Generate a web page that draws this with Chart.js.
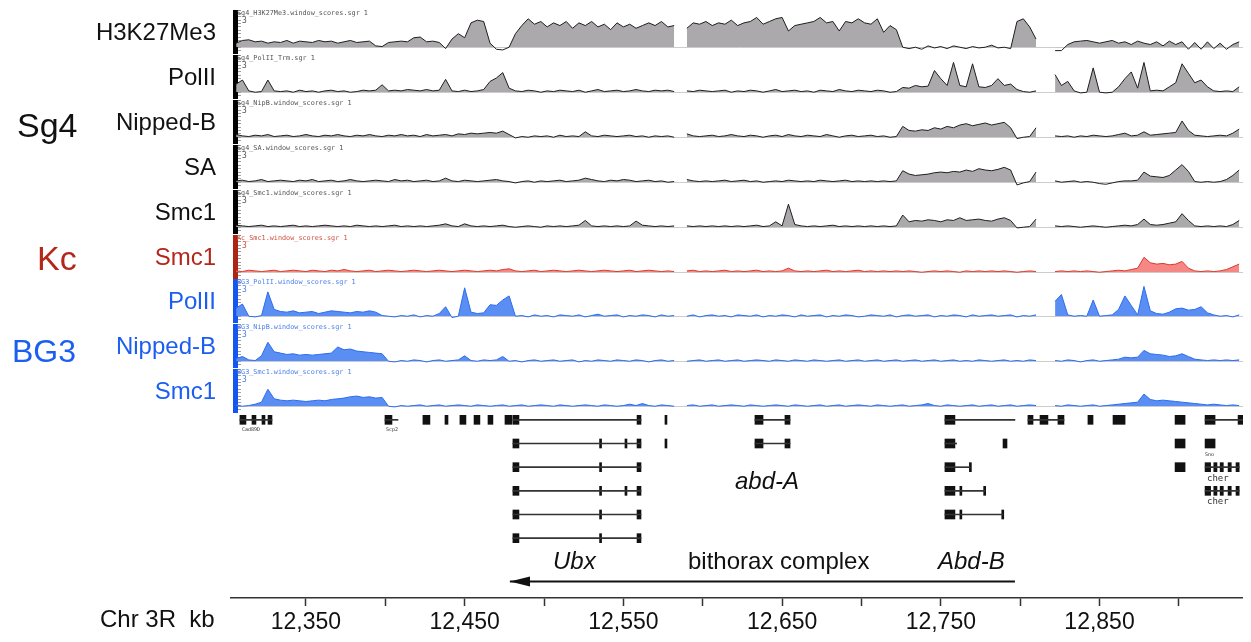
<!DOCTYPE html>
<html><head><meta charset="utf-8">
<script src="https://cdn.jsdelivr.net/npm/chart.js@4.4.1/dist/chart.umd.min.js"></script>
<style>
body{margin:0;background:#fff;}
#wrap{position:relative;width:1251px;height:642px;overflow:hidden;font-family:"Liberation Sans",Arial,Helvetica,sans-serif;background:#fff;}
.abs{position:absolute;white-space:nowrap;}
canvas{position:absolute;}
.tl{font-size:24px;line-height:26px;text-align:right;width:212px;}
.grp{font-size:34px;line-height:38px;}
.fn{font-family:"DejaVu Sans Mono",monospace;font-size:6.8px;line-height:8px;}
.sc{font-family:"DejaVu Sans Mono",monospace;font-size:8px;line-height:9px;}
.gl{font-family:"DejaVu Sans Mono",monospace;font-size:9px;line-height:10px;color:#333;}
.big{font-size:24px;line-height:26px;color:#111;}
</style></head><body><div id="wrap"></div>
<script>
// ---- x range (kb on Chr 3R) ----
const xMinKb = 12305.3, xMaxKb = 12940.4;
const binStartKb = 12306, binSizeKb = 4;

// ---- tracks ----
const trackNames = ['H3K27Me3','PolII','Nipped-B','SA','Smc1','Smc1','PolII','Nipped-B','Smc1'];
const trackGroups = ['Sg4','Sg4','Sg4','Sg4','Sg4','Kc','BG3','BG3','BG3'];
const trackFiles = ['Sg4_H3K27Me3.window_scores.sgr 1','Sg4_PolII_Trm.sgr 1','Sg4_NipB.window_scores.sgr 1','Sg4_SA.window_scores.sgr 1','Sg4_Smc1.window_scores.sgr 1','Kc_Smc1.window_scores.sgr 1','BG3_PolII.window_scores.sgr 1','BG3_NipB.window_scores.sgr 1','BG3_Smc1.window_scores.sgr 1'];

const sg4H3K27Me3 = [1.3,1.5,1.55,1.4,1.45,1.3,1.4,1.35,1.5,1.3,
1.45,1.4,1.35,1.5,1.4,1.45,1.3,1.4,1.5,1.35,
1.4,1.45,1.1,1.05,1.35,1.4,1.45,1.4,1.7,1.75,
1.4,1.45,1.35,0.9,1.6,2.0,1.7,2.8,3.0,2.9,
1.3,0.85,0.8,1.0,2.0,2.6,3.1,2.7,2.9,2.5,
2.8,2.6,2.9,2.4,2.8,2.6,2.9,2.5,2.7,2.3,
2.8,2.5,2.7,2.4,2.6,2.8,2.6,2.9,2.5,2.6,
null,2.4,2.8,2.7,2.9,2.6,2.8,2.7,3.0,2.6,
2.8,2.9,3.2,2.7,2.9,3.1,3.2,2.2,2.6,2.7,
2.8,2.9,3.2,2.8,2.9,2.2,2.9,2.8,3.1,2.8,
2.7,3.1,2.1,2.6,2.3,1.0,0.9,1.0,0.85,1.1,
0.95,1.05,0.9,1.1,1.0,0.9,1.05,0.95,1.0,1.15,
0.95,1.0,0.9,2.9,3.1,2.5,1.6,null,null,0.75,
0.75,1.2,1.4,1.45,1.5,1.4,1.3,1.4,1.5,1.3,
1.4,1.2,1.45,1.3,1.2,1.4,1.1,1.45,1.2,1.4,
0.85,1.35,0.85,1.4,0.9,1.3,0.85,1.2,1.4];

const sg4PolII = [1.6,1.9,1.1,1.0,1.05,1.9,1.1,1.05,1.1,1.0,
1.15,1.05,1.1,1.0,1.1,1.15,1.05,1.1,1.0,1.05,
1.15,1.1,1.15,1.55,1.1,1.15,1.1,1.2,1.15,1.1,
1.2,1.1,1.15,1.95,1.1,1.05,1.15,1.05,1.1,1.2,
1.8,2.05,2.45,1.3,1.1,1.05,1.15,1.1,1.0,1.1,
1.05,1.15,1.1,1.05,1.15,1.0,1.1,1.2,1.05,1.1,
1.15,1.05,1.1,1.2,1.1,1.05,1.15,1.1,1.15,1.05,
null,1.1,1.05,1.15,1.1,1.05,1.1,1.15,1.0,1.1,
1.05,1.15,1.1,1.0,1.1,1.2,1.05,1.1,1.15,1.05,
1.1,1.0,1.15,1.1,1.05,1.2,1.1,1.05,1.15,1.1,
1.05,1.15,1.1,1.0,1.05,1.35,1.3,1.5,1.4,1.45,
2.6,2.0,1.5,3.2,1.5,1.4,3.1,1.4,1.35,1.5,
2.0,1.5,1.6,1.2,1.05,1.0,1.1,null,null,2.3,
1.5,1.8,1.1,0.95,1.0,2.8,1.0,0.95,1.0,1.4,
2.0,2.5,1.3,3.2,1.1,1.15,1.1,1.4,1.7,3.1,
2.4,1.7,1.9,1.4,1.1,1.05,1.1,1.05,1.4];

const sg4NippedB = [1.2,1.1,1.05,1.15,1.1,1.2,1.05,1.1,1.15,1.05,
1.1,1.2,1.1,1.05,1.15,1.1,1.2,1.1,1.05,1.15,
1.1,1.2,1.1,1.05,1.15,1.1,1.2,1.1,1.15,1.05,
1.2,1.1,1.15,1.2,1.1,1.25,1.2,1.3,1.25,1.3,
1.35,1.3,1.45,1.2,0.95,1.05,1.0,1.1,1.05,1.1,
1.0,1.15,1.05,1.1,1.05,1.4,1.1,1.05,1.15,1.1,
1.05,1.1,1.15,1.05,1.1,1.0,1.1,1.05,1.1,1.0,
null,1.25,1.1,1.05,1.1,1.15,1.05,1.1,1.2,1.1,
1.05,1.15,1.1,1.0,1.1,1.15,1.05,1.2,1.1,1.05,
1.15,1.1,1.05,1.2,1.1,1.0,1.1,1.15,1.05,1.1,
1.15,1.05,1.1,1.0,1.05,1.8,1.5,1.45,1.55,1.5,
1.7,1.6,1.8,1.7,1.9,2.0,1.85,1.95,2.05,1.9,
2.0,2.1,1.7,0.9,1.0,1.05,1.7,null,null,1.1,
1.05,1.1,1.0,1.1,1.05,1.15,1.1,1.05,1.1,1.2,
1.3,1.1,1.15,1.4,1.15,1.2,1.25,1.3,1.35,2.2,
1.5,1.15,1.1,1.05,1.1,1.15,1.1,1.3,1.6];

const sg4SA = [1.1,1.15,1.05,1.1,1.2,1.05,1.1,1.15,1.1,1.05,
1.15,1.1,1.2,1.05,1.1,1.15,1.05,1.1,1.2,1.1,
1.05,1.1,1.15,1.1,1.05,1.2,1.1,1.15,1.05,1.1,
1.15,1.05,1.1,1.3,1.1,1.05,1.15,1.1,1.05,1.1,
1.15,1.2,1.1,1.05,0.95,1.05,1.1,1.0,1.1,1.05,
1.1,1.15,1.05,1.1,1.15,1.3,1.2,1.1,1.05,1.15,
1.1,1.2,1.15,1.05,1.1,1.15,1.05,1.1,1.0,1.05,
null,1.2,1.1,1.05,1.1,1.05,1.1,1.15,1.05,1.1,
1.15,1.05,1.1,1.0,1.05,1.1,1.05,1.15,1.1,1.05,
1.1,1.05,1.15,1.1,1.05,1.1,1.15,1.05,1.1,1.05,
1.1,1.05,1.1,1.05,1.1,1.85,1.6,1.5,1.55,1.6,
1.7,1.75,1.7,1.8,1.75,1.9,1.8,2.0,1.9,1.85,
1.95,2.1,1.9,0.8,0.95,1.05,1.75,null,null,1.1,
1.0,1.05,1.1,1.0,1.05,1.0,0.9,0.85,0.95,1.05,
1.1,1.1,1.15,1.75,1.45,1.4,1.35,1.5,1.9,2.3,
1.8,1.05,1.0,1.05,1.0,1.05,1.2,1.5,1.9];

const sg4Smc1 = [1.15,1.1,1.05,1.1,1.15,1.05,1.1,1.05,1.1,1.15,
1.05,1.1,1.05,1.1,1.15,1.1,1.05,1.1,1.05,1.15,
1.1,1.05,1.1,1.05,1.1,1.15,1.05,1.1,1.05,1.1,
1.05,1.1,1.15,1.25,1.1,1.05,1.25,1.1,1.05,1.1,
1.05,1.1,1.15,1.05,1.0,1.05,1.1,1.05,1.0,1.1,
1.05,1.1,1.05,1.1,1.15,1.5,1.1,1.05,1.1,1.05,
1.1,1.05,1.1,1.45,1.15,1.1,1.05,1.1,1.05,1.1,
null,1.1,1.05,1.1,1.05,1.1,1.05,1.1,1.05,1.1,
1.05,1.1,1.15,1.05,1.1,1.4,1.1,2.7,1.2,1.1,
1.05,1.1,1.05,1.1,1.15,1.05,1.1,1.05,1.1,1.05,
1.1,1.05,1.1,1.05,1.1,1.9,1.4,1.5,1.45,1.55,
1.5,1.4,1.55,1.5,1.7,1.5,1.55,1.6,1.5,1.45,
1.6,1.7,1.5,0.95,1.0,1.05,1.6,null,null,1.1,
1.05,1.1,1.05,1.0,1.05,1.1,1.05,1.0,1.05,1.1,
1.15,1.1,1.2,1.6,1.2,1.15,1.2,1.3,1.4,2.0,
1.5,1.1,1.05,1.1,1.05,1.1,1.05,1.2,1.5];

const kcSmc1 = [1.1,1.05,1.15,1.1,1.05,1.1,1.15,1.05,1.1,1.15,
1.1,1.05,1.15,1.1,1.05,1.15,1.1,1.2,1.1,1.05,
1.1,1.15,1.05,1.1,1.15,1.1,1.05,1.1,1.15,1.1,
1.05,1.1,1.15,1.1,1.05,1.1,1.15,1.1,1.05,1.1,
1.15,1.1,1.2,1.25,1.1,1.05,1.1,1.15,1.05,1.1,
1.15,1.1,1.05,1.1,1.15,1.1,1.05,1.1,1.15,1.1,
1.05,1.1,1.15,1.05,1.1,1.15,1.1,1.05,1.1,1.05,
null,1.1,1.15,1.05,1.1,1.05,1.1,1.15,1.05,1.1,
1.05,1.1,1.15,1.05,1.1,1.05,1.1,1.3,1.1,1.05,
1.1,1.05,1.1,1.15,1.05,1.1,1.05,1.1,1.15,1.05,
1.1,1.05,1.1,1.05,1.1,1.05,1.1,1.05,1.0,1.05,
1.1,1.05,1.1,1.05,1.0,1.1,1.05,1.1,1.05,1.1,
1.05,1.1,1.05,1.0,1.05,1.1,1.05,null,null,1.05,
1.1,1.05,1.1,1.05,1.1,1.05,1.0,1.05,1.1,1.15,
1.1,1.2,1.3,2.1,1.7,1.6,1.65,1.55,1.6,1.8,
1.3,1.1,1.05,1.1,1.05,1.1,1.2,1.4,1.6];

const bg3PolII = [1.6,1.9,1.0,0.95,1.05,2.8,1.5,1.35,1.3,1.4,
1.25,1.3,1.35,1.2,1.3,1.4,1.35,1.3,1.25,1.35,
1.3,1.4,1.3,1.05,1.0,0.95,1.05,1.0,1.1,0.95,
1.05,1.0,1.2,1.7,0.9,1.0,3.1,1.3,1.2,1.25,
1.85,1.8,2.2,2.5,1.0,1.05,0.95,1.1,1.0,1.05,
0.95,1.1,1.05,1.0,1.1,0.95,1.05,1.15,1.0,1.05,
1.1,0.95,1.05,1.0,1.1,1.05,0.95,1.1,1.0,1.05,
null,1.0,1.1,0.95,1.05,1.1,1.0,1.05,0.95,1.1,
1.05,1.0,1.1,0.95,1.05,1.0,1.1,1.05,0.95,1.1,
1.0,1.05,1.1,0.95,1.05,1.0,1.1,1.05,0.95,1.0,
1.1,1.05,1.0,1.1,0.95,1.05,1.1,1.0,1.05,1.1,
0.95,1.05,1.0,1.1,1.05,0.95,1.1,1.0,1.05,1.1,
1.0,1.05,1.1,0.95,1.05,1.0,1.1,null,null,2.1,
2.6,1.1,1.0,1.05,1.0,2.2,1.0,1.05,1.1,1.5,
2.5,1.8,1.1,3.2,1.4,1.2,1.15,1.3,1.55,1.6,
1.45,1.5,1.7,1.25,1.1,1.0,1.05,0.95,1.1];

const bg3NippedB = [1.2,1.35,1.1,1.05,1.4,2.4,1.7,1.6,1.5,1.55,
1.45,1.5,1.45,1.5,1.55,1.6,2.05,1.85,1.9,1.75,
1.7,1.65,1.6,1.55,1.0,0.95,1.05,1.0,1.1,1.05,
0.95,1.05,1.1,1.0,1.05,1.1,1.4,1.05,1.0,1.1,
1.05,1.1,1.35,1.0,1.05,0.95,1.05,1.1,1.0,1.05,
1.1,1.0,1.05,1.1,0.95,1.05,1.0,1.1,1.05,1.0,
1.1,1.05,1.0,1.1,1.05,0.95,1.05,1.1,1.0,1.05,
null,1.0,1.05,1.1,1.0,1.05,1.1,1.0,1.05,1.1,
1.0,1.05,1.1,1.05,1.0,1.1,1.05,1.0,1.1,1.05,
1.0,1.1,1.05,1.0,1.05,1.1,1.0,1.05,1.1,1.0,
1.05,1.1,1.0,1.05,1.1,1.0,1.05,1.1,1.0,1.05,
1.1,1.0,1.05,1.1,1.0,1.05,1.0,1.1,1.05,1.0,
1.05,1.1,1.0,1.05,1.0,1.1,1.05,null,null,1.05,
1.0,1.1,1.05,0.95,1.05,1.1,1.0,1.05,1.1,1.15,
1.3,1.25,1.3,1.8,1.55,1.5,1.45,1.35,1.4,1.55,
1.35,1.15,1.1,1.05,1.1,1.05,1.1,1.05,1.1];

const bg3Smc1 = [1.1,1.0,1.05,1.15,1.3,2.25,1.55,1.45,1.4,1.45,
1.4,1.35,1.4,1.45,1.4,1.5,1.55,1.6,1.7,1.75,
1.65,1.7,1.6,1.65,1.0,0.95,1.05,1.0,1.05,1.1,
1.0,1.05,1.1,1.0,1.05,1.1,1.05,1.0,1.1,1.05,
1.0,1.05,1.1,1.0,1.05,1.1,1.0,1.05,1.1,1.05,
1.0,1.1,1.05,1.0,1.05,1.1,1.05,1.0,1.1,1.05,
1.0,1.05,1.15,1.05,1.2,1.05,1.0,1.1,1.05,1.0,
null,1.05,1.1,1.0,1.05,1.1,1.0,1.05,1.1,1.05,
1.0,1.1,1.05,1.0,1.05,1.1,1.05,1.0,1.1,1.05,
1.0,1.05,1.1,1.0,1.05,1.1,1.0,1.05,1.1,1.05,
1.0,1.1,1.05,1.0,1.05,1.1,1.0,1.05,1.1,1.2,
1.05,1.0,1.1,1.05,1.0,1.05,1.1,1.0,1.05,1.1,
1.0,1.05,1.1,1.0,1.05,1.1,1.05,null,null,1.05,
1.0,1.1,1.05,1.0,1.05,1.1,1.0,1.05,1.1,1.15,
1.2,1.25,1.3,1.9,1.5,1.4,1.45,1.4,1.35,1.3,
1.25,1.2,1.15,1.1,1.15,1.1,1.05,1.1,1.05];

const trackValues = [sg4H3K27Me3, sg4PolII, sg4NippedB, sg4SA, sg4Smc1, kcSmc1, bg3PolII, bg3NippedB, bg3Smc1];

// ---- gene models: [row, startKb, endKb] ----
const geneRows = ['r1','r2','r3','r4','r5','r6'];
const intronSpans = [
 [0,12308.4,12328.6],[0,12399.8,12408],[0,12480.4,12561.1],[0,12632.9,12655],[0,12752.6,12796.7],[0,12804.9,12827.6],[0,12916.5,12940.4],
 [1,12480.4,12561.1],[1,12632.9,12655],[1,12752.6,12760],
 [2,12480.4,12561.1],[2,12752.6,12768.4],[2,12916.5,12938],
 [3,12480.4,12561.1],[3,12752.6,12777.8],[3,12916.5,12938],
 [4,12480.4,12561.1],[4,12752.6,12789.2],
 [5,12480.4,12561.1]
];
const exonSpans = [
 [0,12308.4,12312.2],[0,12316,12318.5],[0,12322.3,12324.2],[0,12326.1,12328.6],[0,12399.8,12404.2],[0,12423.7,12428.1],[0,12437.6,12439.5],[0,12447,12450.8],[0,12455.9,12459.6],[0,12464.7,12467.8],[0,12475.4,12479.8],[0,12480.4,12484.2],[0,12558.6,12561.1],[0,12576.2,12577.2],[0,12632.9,12638],[0,12651.8,12655],[0,12752.6,12758.9],[0,12804.9,12808.1],[0,12812.5,12817.5],[0,12823.8,12827.6],[0,12842.7,12845.9],[0,12858.5,12866.1],[0,12897.6,12903.9],[0,12916.5,12922.8],[0,12937.3,12940.4],
 [1,12480.4,12484.2],[1,12535,12535.8],[1,12551,12551.8],[1,12558.6,12561.1],[1,12576.2,12577.2],[1,12632.9,12638],[1,12651.8,12655],[1,12752.6,12758.9],[1,12789.2,12791.7],[1,12897.6,12903.9],[1,12916.5,12922.8],
 [2,12480.4,12484.2],[2,12535,12535.8],[2,12558.6,12561.1],[2,12752.6,12758.9],[2,12768,12768.8],[2,12897.6,12903.9],[2,12916.5,12920],[2,12922,12924],[2,12926,12928],[2,12931,12933],[2,12936,12938],
 [3,12480.4,12484.2],[3,12535,12535.8],[3,12551,12551.8],[3,12558.6,12561.1],[3,12752.6,12758.9],[3,12762,12762.8],[3,12777,12777.8],[3,12916.5,12920],[3,12922,12924],[3,12926,12928],[3,12931,12933],[3,12936,12938],
 [4,12480.4,12484.2],[4,12535,12535.8],[4,12558.6,12561.1],[4,12752.6,12758.9],[4,12762,12762.8],[4,12788.4,12789.2],
 [5,12480.4,12484.2],[5,12535,12535.8],[5,12558.6,12561.1]
];

// ---- axis ----
const axisMinKb = 12302.15;
const axisTickStepKb = 50;
const arrowTipKb = 12478.5, arrowTailKb = 12796.7;

const groupStyle = {
  Sg4:{line:'#1e1e1e', fill:'#aba9ac', bar:'#000000', label:'#111111', file:'#555555'},
  Kc:{line:'#d83a2c', fill:'#f58884', bar:'#ad2415', label:'#b3281b', file:'#d0503f'},
  BG3:{line:'#2c6cf0', fill:'#5a8ef3', bar:'#1656f0', label:'#1c5ff0', file:'#4d80ea'}
};

const wrap = document.getElementById('wrap');
function addText(txt, cls, left, top, extra) {
  const d = document.createElement('div');
  d.className = 'abs ' + cls; d.textContent = txt;
  d.style.left = left + 'px'; d.style.top = top + 'px';
  if (extra) Object.assign(d.style, extra);
  wrap.appendChild(d); return d;
}
function addCanvas(left, top, w, h) {
  const c = document.createElement('canvas');
  c.width = w; c.height = h; c.style.left = left + 'px'; c.style.top = top + 'px';
  c.style.width = w + 'px'; c.style.height = h + 'px';
  wrap.appendChild(c); return c;
}
const baseOpts = {animation:false, responsive:false, events:[], devicePixelRatio:1, layout:{padding:0, autoPadding:false},
  plugins:{legend:{display:false}, tooltip:{enabled:false}, title:{display:false}}};

trackValues.forEach((vals, k) => {
  const top = Math.round(10 + 44.9 * k);
  const g = groupStyle[trackGroups[k]];
  const cv = addCanvas(230, top, 1013, 44);
  const pts = vals.map((v, i) => ({x: binStartKb + binSizeKb * i, y: v}));
  new Chart(cv, {
    type:'line',
    data:{datasets:[{data:pts, borderColor:g.line, borderWidth:1, pointRadius:0, tension:0, spanGaps:false,
      fill:{target:{value:1}, above:g.fill, below:'rgba(0,0,0,0)'}}]},
    options:Object.assign({}, baseOpts, {
      scales:{
        x:{type:'linear', min:xMinKb, max:xMaxKb, display:false},
        y:{type:'linear', min:0.5, max:3.75, position:'left',
          afterFit(s){ s.width = 5; },
          border:{display:true, color:g.bar, width:5},
          grid:{drawOnChartArea:true, drawTicks:true, tickLength:-6, tickColor:'#a0a0a0', tickWidth:1,
            color:(c)=> (c.tick && Math.abs(c.tick.value - 1) < 1e-6) ? '#cdcdcd' : 'rgba(0,0,0,0)'},
          ticks:{stepSize:0.25, autoSkip:false, display:false}
        }
      }
    })
  });
  addText(trackFiles[k], 'fn', 237, top - 1, {color:g.file});
  addText('3', 'sc', 242, top + 6, {color:g.file});
  addText(trackNames[k], 'tl', 4, top + 9, {color:g.label});
});

addText('Sg4', 'grp', 17, 106, {color:groupStyle.Sg4.label});
addText('Kc', 'grp', 37, 239, {color:groupStyle.Kc.label});
addText('BG3', 'grp', 12, 332, {color:groupStyle.BG3.label, fontSize:'32px'});

// gene track
const gcv = addCanvas(235, 408, 1008, 142);
new Chart(gcv, {
  type:'bar',
  data:{labels:geneRows, datasets:[
    {data:intronSpans.map(([r,s,e]) => ({y:geneRows[r], x:[s,e]})), backgroundColor:'#333', barThickness:1, grouped:false},
    {data:exonSpans.map(([r,s,e]) => ({y:geneRows[r], x:[s,e]})), backgroundColor:'#111', barThickness:9, grouped:false, minBarLength:2}
  ]},
  options:Object.assign({}, baseOpts, {indexAxis:'y',
    scales:{x:{type:'linear', min:xMinKb, max:xMaxKb, display:false}, y:{type:'category', display:false, offset:true}}})
});
addText('Cad89D', 'gl', 242, 424, {fontSize:'5px'});
addText('Scp2', 'gl', 386, 424, {fontSize:'5px'});
addText('Sno', 'gl', 1205, 449, {fontSize:'5px'});
addText('cher', 'gl', 1207, 473);
addText('cher', 'gl', 1207, 496);
addText('abd-A', 'big', 735, 468, {fontStyle:'italic'});
addText('Ubx', 'big', 553, 548, {fontStyle:'italic'});
addText('bithorax complex', 'big', 688, 548);
addText('Abd-B', 'big', 938, 548, {fontStyle:'italic'});

// axis + arrow
const head = document.createElement('canvas');
head.width = 40; head.height = 11;
{ const c = head.getContext('2d'); c.fillStyle = '#111'; c.beginPath(); c.moveTo(20, 5.5); c.lineTo(40, 0.5); c.lineTo(40, 10.5); c.closePath(); c.fill(); }
const acv = addCanvas(230, 565, 1013, 77);
new Chart(acv, {
  type:'line',
  data:{datasets:[{data:[{x:arrowTipKb, y:0.5},{x:arrowTailKb, y:0.5}], borderColor:'#111', borderWidth:2,
    pointStyle:[head,'circle'], pointRadius:[10,0], tension:0}]},
  options:Object.assign({}, baseOpts, {
    scales:{
      x:{type:'linear', min:axisMinKb, max:xMaxKb, position:'bottom',
        afterFit(s){ s.height = 44; },
        border:{display:true, color:'#333', width:1.5},
        grid:{drawOnChartArea:false, drawTicks:true, tickLength:8, tickColor:'#333', tickWidth:1.5},
        ticks:{stepSize:axisTickStepKb, includeBounds:false, autoSkip:false, maxRotation:0, padding:3, color:'#111',
          font:{size:23, family:'Liberation Sans'},
          callback:(v)=> (((v - 12350) % 100) === 0 ? v.toLocaleString('en-US') : '')}
      },
      y:{display:false, min:0, max:1}
    }
  })
});
addText('Chr 3R  kb', 'big', 100, 606, {whiteSpace:'pre'});
</script></body></html>
